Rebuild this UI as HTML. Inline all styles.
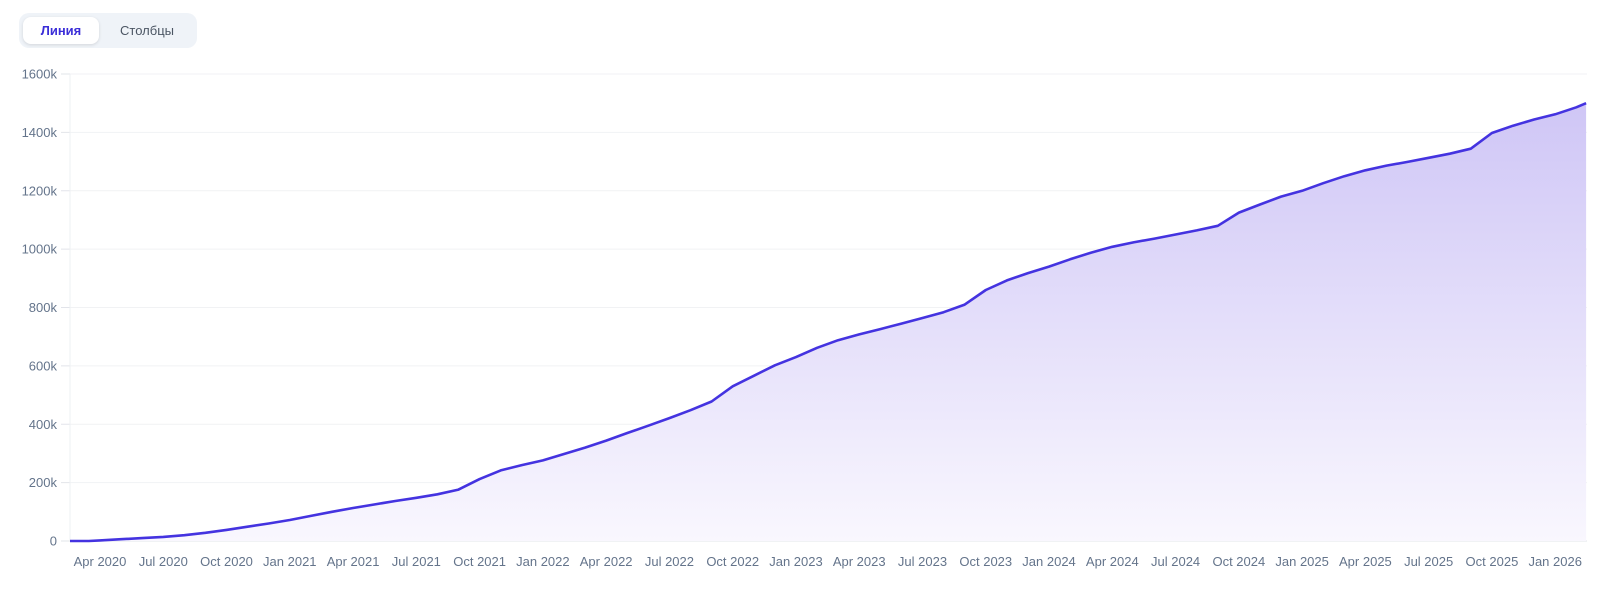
<!DOCTYPE html>
<html><head><meta charset="utf-8"><style>
body{margin:0;background:#fff;font-family:"Liberation Sans",sans-serif;}
.tog{position:absolute;left:19px;top:13px;width:178px;height:35px;background:#eff3f8;border-radius:10px;}
.btn{position:absolute;top:4px;height:27px;line-height:27px;font-size:13px;text-align:center;border-radius:8px;cursor:pointer;}
.on{left:4px;width:76px;background:#fff;color:#3b2ed8;font-weight:bold;box-shadow:0 1px 3px rgba(0,0,0,.12);}
.off{left:82px;width:92px;color:#4b5563;}
svg{position:absolute;left:0;top:0;}
</style></head><body>
<div class="tog">
<div class="btn on">Линия</div>
<div class="btn off">Столбцы</div>
</div>
<svg id="c" width="1600" height="593">
<defs><linearGradient id="g" x1="0" y1="0" x2="0" y2="1">
<stop offset="0" stop-color="#cfc6f6"/><stop offset="1" stop-color="#f9f7fe"/></linearGradient></defs>
</svg>
<script>
const dates=["2020-02-15","2020-03-15","2020-04-01","2020-05-01","2020-06-01","2020-07-01","2020-08-01","2020-09-01","2020-10-01","2020-11-01","2020-12-01",
"2021-01-01","2021-02-01","2021-03-01","2021-04-01","2021-05-01","2021-06-01","2021-07-01","2021-08-01","2021-09-01","2021-10-01","2021-11-01","2021-12-01",
"2022-01-01","2022-02-01","2022-03-01","2022-04-01","2022-05-01","2022-06-01","2022-07-01","2022-08-01","2022-09-01","2022-10-01","2022-11-01","2022-12-01",
"2023-01-01","2023-02-01","2023-03-01","2023-04-01","2023-05-01","2023-06-01","2023-07-01","2023-08-01","2023-09-01","2023-10-01","2023-11-01","2023-12-01",
"2024-01-01","2024-02-01","2024-03-01","2024-04-01","2024-05-01","2024-06-01","2024-07-01","2024-08-01","2024-09-01","2024-10-01","2024-11-01","2024-12-01",
"2025-01-01","2025-02-01","2025-03-01","2025-04-01","2025-05-01","2025-06-01","2025-07-01","2025-08-01","2025-09-01","2025-10-01","2025-11-01","2025-12-01",
"2026-01-01","2026-02-01","2026-02-15"];
const values=[0,0,2,6,10,14,20,28,38,49,60,
72,86,100,113,125,137,148,160,176,212,242,260,
276,298,320,344,370,395,421,448,478,530,566,602,
630,662,688,708,726,745,764,784,810,860,893,918,
940,965,988,1008,1023,1036,1050,1064,1080,1125,1153,1180,
1200,1226,1250,1270,1286,1299,1313,1327,1344,1398,1423,1444,
1462,1486,1500];
const yTicks=[0,200,400,600,800,1000,1200,1400,1600];
const xTickLabels=["Apr 2020","Jul 2020","Oct 2020","Jan 2021","Apr 2021","Jul 2021","Oct 2021","Jan 2022","Apr 2022","Jul 2022","Oct 2022","Jan 2023","Apr 2023","Jul 2023","Oct 2023","Jan 2024","Apr 2024","Jul 2024","Oct 2024","Jan 2025","Apr 2025","Jul 2025","Oct 2025","Jan 2026"];
const NS="http://www.w3.org/2000/svg",svg=document.getElementById('c');
const L=70,R=1587,T=74,B=541;
function mi(s){const p=s.split('-').map(Number);return (p[0]-2020)*12+(p[1]-4)+(p[2]-1)/30;}
const x=m=>100+m*21.09;
const y=v=>B-(v/1600)*(B-T);
function el(t,a){const e=document.createElementNS(NS,t);for(const k in a)e.setAttribute(k,a[k]);svg.appendChild(e);return e;}
yTicks.forEach(v=>{
 const g=el('line',{x1:L,x2:R,y1:y(v),y2:y(v),stroke:v===0?'#e2e4ea':'#f1f2f4','stroke-width':1});
 
 
 el('line',{x1:61,x2:L,y1:y(v),y2:y(v),stroke:'#e2e4ea'});
 const t=el('text',{x:57,y:y(v)+4.5,'text-anchor':'end','font-size':13,fill:'#64748b'});
 t.textContent=v===0?'0':v+'k';
 
 
});
el('line',{x1:L,x2:L,y1:T,y2:B,stroke:'#eef0f3'});
xTickLabels.forEach((s,i)=>{
 const t=el('text',{x:x(i*3),y:566,'text-anchor':'middle','font-size':13,fill:'#64748b'});
 t.textContent=s;
 
 
});
const pts=dates.map((d,i)=>[Math.max(L,Math.min(R,x(mi(d)))),y(values[i])]);
const d='M'+pts.map(p=>p[0].toFixed(1)+','+p[1].toFixed(1)).join('L');
const area=el('path',{d:d+'L'+pts[pts.length-1][0]+','+B+'L'+pts[0][0]+','+B+'Z',fill:'url(#g)'});


const line=el('path',{d:d,fill:'none',stroke:'#4433e0','stroke-width':2.6,'stroke-linejoin':'round'});


</script>
</body></html>
